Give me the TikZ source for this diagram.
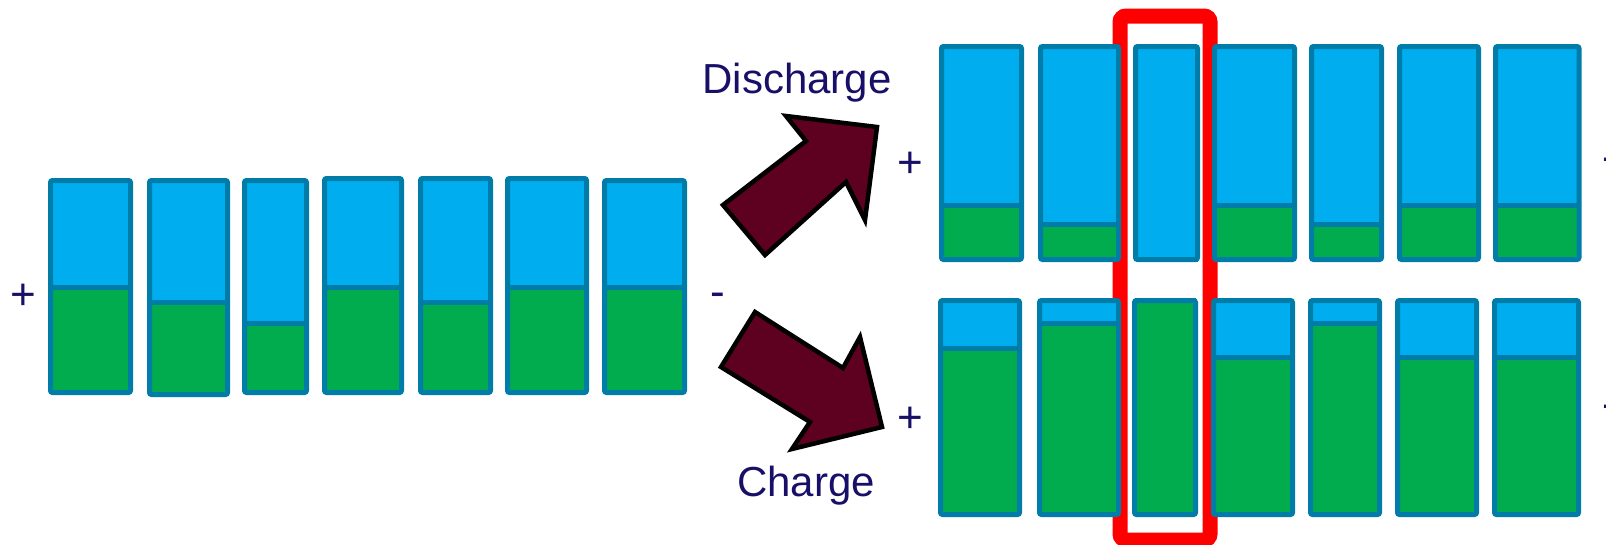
\documentclass[tikz,border=0pt]{standalone}
\usepackage{fontspec}
\setmainfont{Liberation Sans}
\definecolor{cellblue}{RGB}{0,173,239}
\definecolor{cellgreen}{RGB}{0,172,78}
\definecolor{cellrim}{RGB}{0,124,168}
\definecolor{markred}{RGB}{255,0,0}
\definecolor{arrowfill}{RGB}{94,0,32}
\definecolor{labelnavy}{RGB}{24,16,104}
\tikzset{
  rim/.style={draw=cellrim, line width=5pt},
  blockarrow/.style={fill=arrowfill, draw=black, line width=4.5pt, line join=miter},
  label/.style={text=labelnavy, inner sep=0pt, font=\fontsize{42}{50}\selectfont},
  sign/.style={text=labelnavy, inner sep=0pt, font=\fontsize{44}{52}\selectfont},
  highlight/.style={draw=markred, line width=15pt, rounded corners=6pt}
}
% one cell: left x, right x, top y, bottom y, level of the charge boundary
\newcommand\cellbar[5]{%
  \fill[cellblue] (#1,#3) rectangle (#2,#4);
  \fill[cellgreen] (#1,#5) rectangle (#2,#4);
  \draw[rim] (#1,#5) -- (#2,#5);
  \draw[rim, rounded corners=2pt] (#1,#3) rectangle (#2,#4);
}
\begin{document}
\begin{tikzpicture}[x=1pt, y=-1pt]
\useasboundingbox (0,0) rectangle (1606,544);

% highlight around the weakest cell
\draw[highlight] (1120,16) rectangle (1210,540);

% string before balancing
\foreach \a/\b/\t/\u/\d in {
  50.5/130.5/180.5/392.5/287, 149.5/227.5/180.5/394.5/302,
  244.5/306.5/180.5/392.5/323, 324.5/401.5/178.5/392.5/287,
  420.5/490.5/178.5/392.5/302, 507.5/586.5/178.5/392.5/287,
  604.5/684.5/180.5/392.5/287}
  {\cellbar{\a}{\b}{\t}{\u}{\d}}

% string after discharge
\foreach \a/\b/\d in {
  941.5/1021.5/205, 1040.5/1118.5/224, 1135.5/1197.5/259.5,
  1214.5/1294.5/205, 1311.5/1381.5/224, 1399.5/1478.5/205,
  1495.5/1579/205}
  {\cellbar{\a}{\b}{46.5}{259.5}{\d}}

% string after charge
\foreach \a/\b/\d in {
  940.5/1019.5/348, 1039.5/1118.5/323, 1134.5/1195.5/300.5,
  1213.5/1292.5/357, 1310.5/1379.5/323, 1397.5/1476.5/357,
  1494.5/1578.5/357}
  {\cellbar{\a}{\b}{300.5}{514.5}{\d}}

% block arrows
\draw[blockarrow] (723,205) -- (806,141) -- (786,116) -- (877,127)
  -- (865,220) -- (846,182) -- (765,255) -- cycle;
\draw[blockarrow] (755,312) -- (843,368) -- (860,337) -- (882,427)
  -- (792,449) -- (810,422) -- (721,367) -- cycle;

% labels
\node[label, anchor=base] (dis) at (797,93) {Discharge};
\node[label, anchor=base] (chg) at (806,496) {Charge};

% terminals
\node[sign] (p0) at (23,297) {+};
\node[sign, anchor=base] (m0) at (718,306.5) {-};
\node[sign] (p1) at (910,165) {+};
\node[sign, anchor=base] (m1) at (1610,171.5) {-};
\node[sign] (p2) at (910,420) {+};
\node[sign, anchor=base] (m2) at (1610,418.5) {-};
\end{tikzpicture}
\end{document}
